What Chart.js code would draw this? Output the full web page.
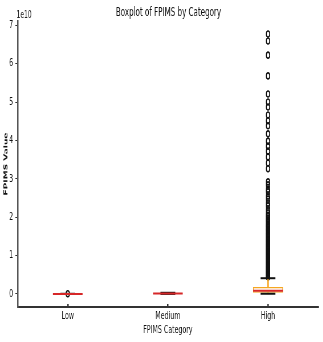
<!DOCTYPE html>
<html>
<head>
<meta charset="utf-8">
<script src="https://cdn.jsdelivr.net/npm/chart.js@4.4.1/dist/chart.umd.min.js"></script>
<style>
    html, body { margin: 0; padding: 0; overflow: hidden; background: #fff; }
    /* the reference is a horizontally squeezed figure, so draw wide and squeeze */
    #wrap { width: 591px; height: 342px; transform: scaleX(0.57); transform-origin: 0 0; }
</style>
</head>
<body>
<div id="wrap"><canvas id="boxplot" width="591" height="342"></canvas></div>
<script>
// values in units of 1e10
const categories = ['Low', 'Medium', 'High'];
const q1 = [0.0005, 0.006, 0.03];
const medians = [0.001, 0.01, 0.085];
const q3 = [0.0015, 0.016, 0.18];
const whiskerLow = [0.0, 0.0015, 0.005];
const whiskerHigh = [0.003, 0.03, 0.41];
const yTicks = [0, 1, 2, 3, 4, 5, 6, 7];

const lowOutliers = [0.004];
const mediumOutliers = [];
const highOutliers = [
    6.77, 6.59, 6.22, 5.68, 5.21, 5.00, 4.87, 4.66, 4.51, 4.38, 4.17, 3.98,
    3.85, 3.72, 3.57, 3.41, 3.26, 2.92, 2.84, 2.73, 2.66, 2.55, 2.47, 2.37,
    2.29, 2.19, 2.11, 2.05, 2.01, 1.96, 1.92, 1.88, 1.83, 1.79, 1.76, 1.72,
    1.68, 1.65, 1.61, 1.57, 1.54, 1.50, 1.47, 1.43, 1.40, 1.37, 1.33, 1.30,
    1.27, 1.24, 1.21, 1.18, 1.15, 1.12, 1.09, 1.06, 1.03, 1.00, 0.97, 0.94,
    0.91, 0.88, 0.85, 0.82, 0.79, 0.76, 0.73, 0.70, 0.68, 0.65, 0.62, 0.60,
    0.57, 0.55, 0.52, 0.50, 0.48, 0.46, 0.44
];

const fontFamily = "'DejaVu Sans', sans-serif";
const boxColor = '#f5a623';
const medianColor = '#d62728';

const outlierPoints = [];
lowOutliers.forEach(v => outlierPoints.push({ x: 'Low', y: v }));
mediumOutliers.forEach(v => outlierPoints.push({ x: 'Medium', y: v }));
highOutliers.forEach(v => outlierPoints.push({ x: 'High', y: v }));

// the "1e10" offset text matplotlib puts above the y axis,
// and let the title centre over the whole canvas width
const offsetLabel = {
    id: 'offsetLabel',
    afterLayout(chart) {
        if (chart.titleBlock) {
            chart.titleBlock.left = 0;
            chart.titleBlock.right = chart.width;
            chart.titleBlock.width = chart.width;
        }
    },
    afterDraw(chart) {
        const { ctx, chartArea } = chart;
        ctx.save();
        ctx.font = '10.5px ' + fontFamily;
        ctx.fillStyle = '#222';
        ctx.textBaseline = 'middle';
        ctx.fillText('1e10', chartArea.left - 2, 15);
        ctx.restore();
    }
};

new Chart('boxplot', {
    type: 'bar',
    data: {
        labels: categories,
        datasets: [
            {
                type: 'line',
                label: 'median',
                data: medians,
                showLine: false,
                pointStyle: 'line',
                pointRadius: 26,
                pointBorderWidth: 2,
                borderColor: medianColor,
                order: 0
            },
            {
                type: 'line',
                label: 'cap high',
                data: whiskerHigh,
                showLine: false,
                pointStyle: 'line',
                pointRadius: 13,
                pointBorderWidth: 2,
                borderColor: '#111',
                order: 1
            },
            {
                type: 'line',
                label: 'cap low',
                data: whiskerLow,
                showLine: false,
                pointStyle: 'line',
                pointRadius: 13,
                pointBorderWidth: 2,
                borderColor: '#111',
                order: 1
            },
            {
                label: 'box',
                data: categories.map((c, i) => [q1[i], q3[i]]),
                backgroundColor: 'rgba(255,255,255,0)',
                borderColor: boxColor,
                borderWidth: 1.2,
                borderSkipped: false,
                barPercentage: 0.3,
                categoryPercentage: 1,
                grouped: false,
                order: 2
            },
            {
                label: 'whisker high',
                data: categories.map((c, i) => [q3[i], whiskerHigh[i]]),
                backgroundColor: boxColor,
                barThickness: 2.2,
                grouped: false,
                order: 3
            },
            {
                label: 'whisker low',
                data: categories.map((c, i) => [whiskerLow[i], q1[i]]),
                backgroundColor: boxColor,
                barThickness: 2.2,
                grouped: false,
                order: 3
            },
            {
                type: 'line',
                label: 'outliers',
                data: outlierPoints,
                showLine: false,
                pointStyle: 'circle',
                pointRadius: 3,
                pointBorderWidth: 1.6,
                pointBackgroundColor: 'rgba(255,255,255,0)',
                borderColor: '#111',
                order: 4
            }
        ]
    },
    options: {
        responsive: false,
        devicePixelRatio: 1,
        animation: false,
        events: [],
        layout: { autoPadding: false, padding: { left: 0, right: 33, top: 0, bottom: 0 } },
        plugins: {
            legend: { display: false },
            tooltip: { enabled: false },
            title: {
                display: true,
                text: 'Boxplot of FPIMS by Category',
                color: '#111',
                font: { family: fontFamily, size: 12.5, weight: 'normal' },
                padding: { top: 5, bottom: 1 }
            }
        },
        scales: {
            x: {
                type: 'category',
                offset: true,
                grid: {
                    display: true,
                    offset: false,
                    drawOnChartArea: false,
                    drawTicks: true,
                    tickLength: -3,
                    color: '#333',
                    lineWidth: 2.5
                },
                border: { display: true, color: '#333', width: 2 },
                ticks: {
                    color: '#111',
                    padding: 6,
                    font: { family: fontFamily, size: 11 }
                },
                title: {
                    display: true,
                    text: 'FPIMS Category',
                    color: '#111',
                    font: { family: fontFamily, size: 11 },
                    padding: { top: 0, bottom: 5.5 }
                },
                afterFit: (scale) => { scale.height = 35; }
            },
            y: {
                type: 'linear',
                min: -0.34,
                max: 7.11,
                grid: {
                    display: true,
                    drawOnChartArea: false,
                    drawTicks: true,
                    tickLength: 4,
                    color: '#333',
                    lineWidth: 1
                },
                border: { display: true, color: '#555', width: 2.5 },
                ticks: {
                    color: '#111',
                    padding: 4,
                    font: { family: fontFamily, size: 11 }
                },
                afterBuildTicks: (scale) => {
                    scale.ticks = yTicks.map(v => ({ value: v }));
                },
                title: {
                    display: true,
                    text: 'FPIMS Value',
                    color: '#111',
                    font: { family: fontFamily, size: 9, weight: 'bold' },
                    padding: { top: 5.5, bottom: 0 }
                },
                afterFit: (scale) => { scale.width = 31; }
            }
        }
    },
    plugins: [offsetLabel]
});
</script>
</body>
</html>
